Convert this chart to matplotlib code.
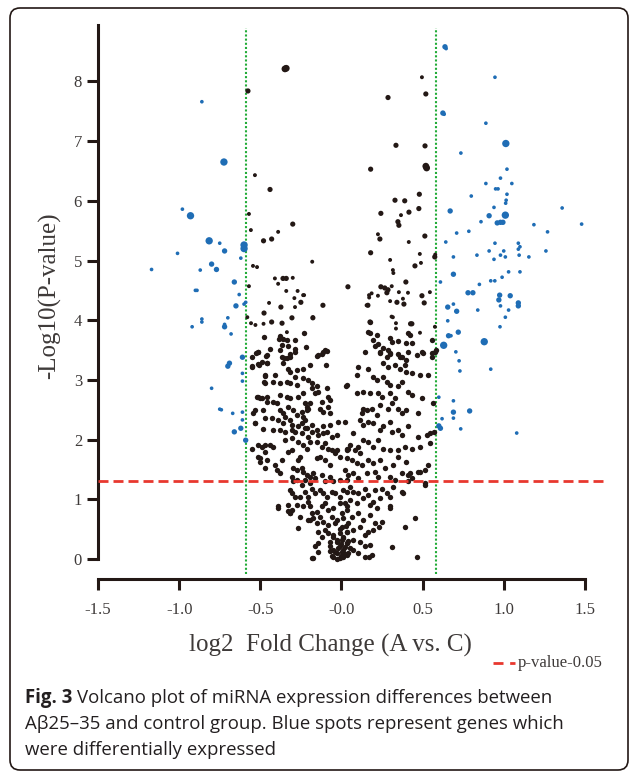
import matplotlib
matplotlib.use("Agg")
import matplotlib.pyplot as plt
from matplotlib.lines import Line2D
from matplotlib.patches import FancyBboxPatch
from matplotlib.transforms import IdentityTransform

# --- data: (log2 fold change, -log10 p, size class) ---
down_pts = [
    (-0.86, 7.66, 1), (-0.724, 6.65, 3), (-0.98, 5.86, 1), (-0.93, 5.75, 3), (-0.815, 5.33, 3),
    (-0.75, 5.29, 1), (-0.72, 5.16, 2), (-0.60, 5.26, 3), (-0.60, 5.20, 3), (-1.01, 5.12, 1),
    (-0.80, 4.94, 2), (-0.77, 4.85, 2), (-0.87, 4.84, 1), (-0.62, 5.04, 1), (-1.17, 4.85, 1),
    (-0.90, 4.50, 1), (-0.89, 4.50, 1), (-0.66, 4.64, 2), (-0.63, 4.43, 1), (-0.65, 4.24, 2),
    (-0.60, 4.27, 1), (-0.59, 4.30, 1), (-0.70, 4.04, 1), (-0.86, 3.97, 1), (-0.86, 4.02, 1),
    (-0.92, 3.89, 1), (-0.72, 3.89, 2), (-0.72, 3.93, 1), (-0.68, 3.77, 1), (-0.61, 3.38, 2),
    (-0.69, 3.28, 2), (-0.70, 3.23, 2), (-0.61, 3.11, 1), (-0.61, 2.98, 1), (-0.80, 2.86, 1),
    (-0.75, 2.51, 1), (-0.74, 2.50, 1), (-0.67, 2.44, 1), (-0.61, 2.46, 1), (-0.61, 2.33, 1),
    (-0.62, 2.19, 2), (-0.66, 2.13, 2), (-0.59, 1.99, 2),
]

up_pts = [
    (0.638, 8.58, 2), (0.645, 8.55, 1), (0.946, 8.07, 1), (0.625, 7.47, 2), (0.633, 7.45, 1),
    (0.89, 7.30, 1), (1.013, 6.96, 3), (0.736, 6.80, 1), (1.02, 6.53, 1), (0.98, 6.38, 1),
    (0.89, 6.29, 1), (1.05, 6.29, 1), (0.95, 6.20, 1), (0.965, 6.20, 1), (1.02, 6.11, 1),
    (0.80, 6.08, 1), (1.015, 6.01, 1), (1.012, 5.96, 1), (0.67, 5.83, 2), (0.94, 5.89, 1),
    (0.91, 5.75, 2), (1.01, 5.76, 3), (0.96, 5.63, 2), (0.98, 5.64, 2), (0.995, 5.64, 2),
    (0.86, 5.65, 1), (1.186, 5.60, 1), (1.36, 5.88, 1), (1.48, 5.61, 1), (1.27, 5.48, 1),
    (0.71, 5.46, 1), (0.785, 5.49, 1), (0.643, 5.31, 1), (0.946, 5.29, 1), (0.91, 5.16, 1),
    (1.00, 5.16, 1), (1.09, 5.19, 1), (1.10, 5.23, 1), (1.09, 5.29, 1), (1.26, 5.16, 1),
    (0.69, 5.06, 1), (0.835, 5.09, 1), (0.98, 5.09, 1), (1.01, 5.06, 1), (0.94, 5.02, 1),
    (1.095, 5.09, 1), (1.155, 5.06, 1), (1.03, 4.81, 1), (1.10, 4.81, 1), (0.69, 4.77, 2),
    (0.99, 4.72, 1), (0.92, 4.66, 1), (0.945, 4.66, 1), (0.61, 4.64, 1), (0.85, 4.60, 1),
    (0.78, 4.46, 2), (0.81, 4.46, 2), (0.975, 4.42, 2), (0.97, 4.34, 2), (1.04, 4.41, 2),
    (1.09, 4.29, 2), (1.09, 4.24, 2), (0.655, 4.22, 2), (0.69, 4.27, 1), (0.71, 4.15, 2),
    (0.84, 4.17, 1), (0.98, 4.24, 1), (1.03, 4.17, 1), (1.01, 4.05, 1), (0.655, 3.99, 1),
    (0.977, 3.89, 1), (0.66, 3.74, 2), (0.675, 3.74, 1), (0.72, 3.80, 2), (0.88, 3.64, 3),
    (0.63, 3.58, 3), (0.705, 3.47, 1), (0.725, 3.32, 1), (0.92, 3.18, 1), (0.73, 3.15, 1),
    (0.60, 2.71, 1), (0.69, 2.65, 1), (0.79, 2.48, 2), (0.69, 2.46, 2), (0.62, 2.35, 1),
    (0.69, 2.36, 1), (0.60, 2.23, 2), (0.61, 2.19, 2), (0.735, 2.18, 1), (1.08, 2.11, 1),
]

# sparse non-significant points (with size class)
ns_sparse = [
    (-0.348, 8.21, 3), (-0.340, 8.22, 3), (-0.576, 7.84, 2), (-0.533, 6.43, 1), (-0.44, 6.19, 2),
    (-0.30, 5.61, 2), (-0.57, 5.78, 1), (-0.558, 5.51, 1), (-0.48, 5.33, 2), (-0.43, 5.36, 2),
    (-0.39, 5.48, 1), (-0.18, 4.98, 1), (-0.545, 4.91, 1), (-0.52, 4.89, 1), (-0.41, 4.70, 1),
    (-0.36, 4.70, 2), (-0.34, 4.70, 2), (-0.30, 4.71, 1), (-0.39, 4.61, 1), (-0.57, 4.57, 1),
    (-0.34, 4.49, 1), (-0.27, 4.49, 1), (-0.236, 4.42, 1), (-0.29, 4.37, 1), (-0.446, 4.29, 1),
    (-0.373, 4.22, 2), (-0.286, 4.22, 1), (-0.25, 4.30, 2), (-0.477, 4.12, 2), (-0.58, 4.05, 1),
    (-0.305, 4.04, 2), (-0.176, 4.04, 2), (-0.43, 3.97, 2), (-0.366, 3.95, 2), (-0.557, 3.95, 1),
    (-0.53, 3.92, 1), (-0.48, 3.94, 1), (-0.336, 3.80, 1),
    (0.496, 8.07, 1), (0.52, 7.79, 2), (0.287, 7.73, 2), (0.336, 6.93, 2), (0.515, 6.92, 2),
    (0.52, 6.58, 3), (0.525, 6.55, 3), (0.18, 6.53, 2), (0.48, 6.11, 2), (0.33, 6.01, 2),
    (0.39, 6.00, 2), (0.243, 5.79, 2), (0.367, 5.76, 1), (0.416, 5.81, 2), (0.477, 5.87, 2),
    (0.348, 5.65, 2), (0.354, 5.59, 2), (0.225, 5.44, 1), (0.237, 5.36, 2), (0.514, 5.41, 2),
    (0.415, 5.31, 1), (0.18, 5.13, 2), (0.483, 5.11, 1), (0.575, 5.06, 2), (0.578, 5.10, 1),
    (0.30, 5.01, 1), (0.317, 4.84, 1), (0.32, 4.79, 1), (0.453, 4.91, 2), (0.49, 4.96, 1),
    (0.397, 4.64, 2), (0.04, 4.56, 2), (0.243, 4.56, 2), (0.267, 4.54, 2), (0.287, 4.51, 2),
    (0.31, 4.57, 1), (0.28, 4.46, 2), (-0.23, 4.42, 1), (0.17, 4.42, 1), (0.225, 4.41, 1),
    (0.354, 4.47, 1), (0.41, 4.46, 1), (0.496, 4.41, 2), (0.545, 4.47, 1), (-0.114, 4.25, 2),
    (0.163, 4.25, 2), (0.30, 4.32, 1), (0.342, 4.30, 2), (0.379, 4.36, 1), (0.385, 4.27, 2),
    (0.51, 4.29, 2), (-0.176, 4.05, 1), (0.176, 3.97, 2), (0.317, 4.05, 1), (0.336, 3.95, 1),
    (0.434, 3.94, 2), (0.171, 4.38, 1), (0.155, 4.25, 1), (0.186, 4.45, 1), (0.309, 4.06, 1),
    (0.336, 3.86, 1), (0.426, 3.94, 2), (0.484, 3.79, 1), (0.576, 3.89, 1),
]

# dense non-significant cloud
ns_left = [
    (-0.48, 3.72), (-0.38, 3.74), (-0.23, 3.79), (-0.385, 3.69), (-0.36, 3.69), (-0.336, 3.67),
    (-0.286, 3.67), (-0.366, 3.58), (-0.33, 3.57), (-0.22, 3.55), (-0.286, 3.52), (-0.44, 3.52),
    (-0.38, 3.50), (-0.10, 3.50), (-0.12, 3.43), (-0.15, 3.40), (-0.514, 3.47), (-0.354, 3.37),
    (-0.317, 3.38), (-0.527, 3.45), (-0.46, 3.42), (-0.49, 3.30), (-0.46, 3.28), (-0.55, 3.22),
    (-0.51, 3.25), (-0.47, 3.08), (-0.48, 2.96), (-0.52, 2.72), (-0.50, 2.70), (-0.46, 2.72),
    (-0.545, 2.44), (-0.533, 2.28), (-0.50, 1.69), (-0.47, 1.79), (-0.46, 1.66), (-0.39, 0.85),
    (-0.33, 0.80), (-0.317, 0.77), (-0.27, 0.52), (-0.194, 0.65), (-0.174, 0.02), (-0.143, 0.12),
    (-0.553, 3.39), (-0.513, 3.46), (-0.465, 3.40), (-0.368, 3.38), (-0.338, 3.36), (-0.317, 3.43),
    (-0.286, 3.46), (-0.143, 3.42), (-0.112, 3.46), (-0.087, 3.49),
    (-0.553, 3.23), (-0.513, 3.27), (-0.461, 3.29), (-0.362, 3.29), (-0.328, 3.19), (-0.317, 3.14),
    (-0.276, 3.17), (-0.235, 3.18), (-0.194, 3.25), (-0.096, 3.25),
    (-0.471, 3.07), (-0.41, 3.08), (-0.338, 2.97), (-0.317, 2.94), (-0.286, 3.05), (-0.235, 3.03),
    (-0.205, 3.00), (-0.184, 2.95), (-0.276, 2.91), (-0.153, 2.89), (-0.087, 2.86), (0.028, 2.90),
    (-0.471, 2.94), (-0.42, 2.97), (-0.379, 2.95),
    (-0.513, 2.72), (-0.492, 2.69), (-0.461, 2.63), (-0.42, 2.63), (-0.379, 2.75), (-0.338, 2.72),
    (-0.317, 2.69), (-0.266, 2.72), (-0.235, 2.78), (-0.225, 2.61), (-0.214, 2.55), (-0.194, 2.61),
    (-0.184, 2.86), (-0.163, 2.78), (-0.143, 2.80), (-0.122, 2.63), (-0.081, 2.72), (-0.071, 2.66),
    (-0.533, 2.50), (-0.482, 2.50), (-0.40, 2.61), (-0.379, 2.50), (-0.359, 2.44), (-0.348, 2.38),
    (-0.328, 2.55), (-0.297, 2.50), (-0.276, 2.41), (-0.245, 2.47), (-0.235, 2.38), (-0.225, 2.33),
    (-0.214, 2.50), (-0.205, 2.52), (-0.132, 2.52), (-0.112, 2.47), (-0.081, 2.55), (-0.071, 2.44),
    (-0.533, 2.27), (-0.471, 2.36), (-0.43, 2.36), (-0.389, 2.33), (-0.359, 2.27), (-0.317, 2.33),
    (-0.307, 2.24), (-0.266, 2.22), (-0.245, 2.27), (-0.214, 2.19), (-0.184, 2.24), (-0.153, 2.16),
    (-0.112, 2.22), (-0.071, 2.24), (-0.02, 2.30),
    (-0.482, 2.17), (-0.42, 2.16), (-0.379, 2.16), (-0.348, 2.13), (-0.307, 2.16), (-0.286, 2.13),
    (-0.245, 2.11), (-0.225, 2.19), (-0.184, 2.13), (-0.143, 2.08), (-0.112, 2.11), (-0.091, 2.13),
    (-0.06, 2.05), (-0.03, 2.08),
    (-0.513, 1.91), (-0.492, 1.88), (-0.471, 1.91), (-0.44, 1.91), (-0.553, 1.84), (-0.42, 1.88),
    (-0.348, 1.99), (-0.307, 2.02), (-0.266, 1.96), (-0.235, 1.91), (-0.214, 1.85), (-0.205, 2.04),
    (-0.194, 1.96), (-0.153, 1.96), (-0.122, 1.88), (-0.102, 1.94), (-0.081, 1.85), (-0.06, 1.83),
    (-0.03, 1.83), (0.042, 1.85),
    (-0.513, 1.71), (-0.502, 1.63), (-0.471, 1.52), (-0.41, 1.57), (-0.40, 1.49), (-0.379, 1.44),
    (-0.368, 1.66), (-0.328, 1.80), (-0.307, 1.83), (-0.266, 1.66), (-0.256, 1.71), (-0.297, 1.52),
    (-0.276, 1.49), (-0.245, 1.52), (-0.235, 1.46), (-0.214, 1.41), (-0.194, 1.38), (-0.174, 1.44),
    (-0.153, 1.69), (-0.132, 1.71), (-0.102, 1.66), (-0.071, 1.57), (-0.04, 1.77), (-0.009, 1.71),
    (0.032, 1.83),
    (-0.307, 1.38), (-0.297, 1.30), (-0.276, 1.32), (-0.245, 1.24), (-0.225, 1.32), (-0.194, 1.27),
    (-0.163, 1.35), (-0.122, 1.41), (-0.102, 1.30), (-0.071, 1.38), (-0.05, 1.30), (-0.009, 1.32),
    (0.032, 1.32),
    (-0.317, 1.16), (-0.307, 1.10), (-0.286, 1.04), (-0.256, 1.04), (-0.225, 1.13), (-0.205, 1.04),
    (-0.184, 1.18), (-0.163, 1.10), (-0.132, 1.16), (-0.112, 1.10), (-0.091, 1.04), (-0.06, 1.13),
    (-0.04, 1.10), (-0.009, 1.04), (0.032, 1.13),
    (-0.389, 0.88), (-0.328, 0.90), (-0.307, 0.82), (-0.317, 0.77), (-0.276, 0.90), (-0.235, 0.88),
    (-0.205, 0.96), (-0.194, 0.88), (-0.184, 0.77), (-0.153, 0.79), (-0.122, 0.88), (-0.102, 0.93),
    (-0.081, 0.82), (-0.05, 0.85), (-0.009, 0.93), (0.032, 0.88),
    (-0.256, 0.71), (-0.205, 0.65), (-0.174, 0.68), (-0.153, 0.60), (-0.132, 0.71), (-0.112, 0.62),
    (-0.081, 0.57), (-0.06, 0.71), (-0.03, 0.65), (0.011, 0.68), (0.042, 0.60),
    (-0.143, 0.46), (-0.122, 0.37), (-0.102, 0.49), (-0.081, 0.43), (-0.071, 0.29), (-0.05, 0.37),
    (-0.03, 0.32), (-0.009, 0.43), (0.011, 0.37), (0.032, 0.46),
    (-0.163, 0.21), (-0.143, 0.26), (-0.071, 0.21), (-0.05, 0.15), (-0.03, 0.10), (-0.009, 0.21),
    (0.011, 0.15), (0.032, 0.26), (0.042, 0.10),
    (-0.184, 0.01), (-0.05, 0.04), (-0.03, 0.00), (-0.009, 0.01), (0.011, 0.04),
    (-0.06, 0.05), (-0.04, 0.12), (-0.02, 0.18), (0.0, 0.25), (0.02, 0.20), (0.04, 0.30),
    (-0.05, 0.40), (0.0, 0.05), (0.02, 0.08), (-0.03, 0.28), (0.05, 0.18), (-0.07, 0.14),
    (0.01, 0.35), (-0.01, 0.50), (0.03, 0.55), (-0.04, 0.60),
]

ns_right = [
    (0.176, 3.97), (0.165, 3.81), (0.176, 3.79), (0.217, 3.75), (0.196, 3.67), (0.227, 3.60),
    (0.299, 3.70), (0.309, 3.64), (0.35, 3.66), (0.412, 3.79), (0.422, 3.75), (0.432, 3.61),
    (0.40, 3.62), (0.556, 3.67), (0.576, 3.47), (0.206, 3.56), (0.237, 3.47), (0.258, 3.53),
    (0.288, 3.50), (0.299, 3.43), (0.35, 3.43), (0.371, 3.39), (0.412, 3.47), (0.494, 3.47),
    (0.556, 3.45),
    (0.145, 3.47), (0.237, 3.45), (0.278, 3.39), (0.299, 3.45), (0.36, 3.39), (0.40, 3.33),
    (0.463, 3.42), (0.504, 3.45), (0.556, 3.39), (0.58, 3.50),
    (0.258, 3.28), (0.288, 3.22), (0.33, 3.25), (0.36, 3.19), (0.391, 3.25), (0.40, 3.14),
    (0.432, 3.11), (0.484, 3.08), (0.535, 3.08), (0.104, 3.22), (0.165, 3.19), (0.032, 2.91),
    (0.094, 3.08), (0.196, 3.05), (0.217, 3.00), (0.258, 3.05), (0.278, 2.97), (0.299, 2.91),
    (0.35, 2.89), (0.371, 2.97),
    (0.094, 2.78), (0.134, 2.80), (0.176, 2.78), (0.227, 2.78), (0.248, 2.72), (0.299, 2.78),
    (0.309, 2.61), (0.33, 2.69), (0.412, 2.80), (0.432, 2.75), (0.494, 2.69), (0.566, 2.62),
    (0.134, 2.52), (0.124, 2.44), (0.155, 2.50), (0.186, 2.52), (0.217, 2.41), (0.237, 2.58),
    (0.288, 2.52), (0.35, 2.52), (0.371, 2.44), (0.40, 2.50), (0.473, 2.44),
    (0.022, 2.30), (0.073, 2.11), (0.114, 2.33), (0.134, 2.24), (0.165, 2.30), (0.196, 2.27),
    (0.237, 2.16), (0.258, 2.22), (0.299, 2.30), (0.309, 2.13), (0.35, 2.16), (0.371, 2.08),
    (0.473, 2.05), (0.525, 2.08), (0.545, 1.94), (0.412, 2.22), (0.572, 2.13), (0.545, 2.11),
    (0.032, 1.85), (0.052, 1.91), (0.083, 1.83), (0.104, 1.88), (0.114, 1.77), (0.134, 1.99),
    (0.165, 1.96), (0.196, 1.88), (0.227, 1.99), (0.258, 1.85), (0.299, 1.83), (0.35, 1.83),
    (0.391, 1.88), (0.432, 1.85), (0.484, 1.88), (0.535, 1.57), (0.514, 1.49),
    (0.032, 1.69), (0.063, 1.66), (0.094, 1.60), (0.124, 1.57), (0.165, 1.66), (0.196, 1.60),
    (0.237, 1.66), (0.268, 1.52), (0.319, 1.57), (0.35, 1.71), (0.40, 1.63), (0.412, 1.41),
    (0.432, 1.35), (0.473, 1.46), (0.484, 1.45),
    (0.022, 1.49), (0.042, 1.41), (0.073, 1.44), (0.104, 1.35), (0.155, 1.44), (0.206, 1.46),
    (0.227, 1.38), (0.299, 1.38), (0.33, 1.32), (0.371, 1.44), (0.422, 1.44),
    (0.011, 1.16), (0.052, 1.21), (0.073, 1.13), (0.104, 1.10), (0.145, 1.18), (0.165, 1.07),
    (0.206, 1.16), (0.248, 1.18), (0.278, 1.10), (0.299, 1.04), (0.319, 1.21), (0.371, 1.13),
    (0.412, 1.30), (0.514, 1.27), (0.514, 1.24), (0.38, 1.10),
    (0.022, 0.93), (0.052, 0.99), (0.094, 0.93), (0.134, 1.02), (0.176, 0.90), (0.196, 0.96),
    (0.237, 1.02), (0.299, 0.88), (0.217, 0.85), (0.299, 0.85),
    (0.001, 0.77), (0.032, 0.82), (0.063, 0.71), (0.104, 0.77), (0.134, 0.65), (0.176, 0.74),
    (0.206, 0.60), (0.248, 0.62), (0.391, 0.54), (0.453, 0.68), (0.23, 0.54),
    (0.001, 0.54), (0.032, 0.46), (0.073, 0.49), (0.114, 0.54), (0.145, 0.40), (0.165, 0.46),
    (0.196, 0.49),
    (0.001, 0.32), (0.032, 0.26), (0.073, 0.32), (0.114, 0.29), (0.145, 0.21), (0.176, 0.23),
    (0.309, 0.20), (0.463, 0.04), (0.171, 0.04),
    (0.001, 0.12), (0.032, 0.07), (0.073, 0.15), (0.104, 0.10), (0.145, 0.04), (0.186, 0.07),
]

x_ticks = [-1.5, -1.0, -0.5, 0.0, 0.5, 1.0, 1.5]
x_tick_labels = ["-1.5", "-1.0", "-0.5", "-0.0", "0.5", "1.0", "1.5"]
y_ticks = [0, 1, 2, 3, 4, 5, 6, 7, 8]
fc_cut = 0.585   # log2(1.5)
p_cut = 1.301    # -log10(0.05)

BLACK = "#231815"
BLUE = "#1f6db5"
GREEN = "#22ac38"
RED = "#e8382f"
TXT = "#3e3a39"
SERIF = "Liberation Serif"

blue_size = {1: 7, 2: 15, 3: 28}
black_size = {1: 8, 2: 14, 3: 24}

fig = plt.figure(figsize=(6.29, 7.72), dpi=100)
ax = fig.add_axes([0.1558, 0.2496, 0.805, 0.7184])

ax.vlines([-fc_cut, fc_cut], -0.25, 8.9, colors=GREEN, linewidth=1.5,
          linestyles=(0, (1, 1)), zorder=1)
ax.hlines(p_cut, -1.5, 1.61, colors=RED, linewidth=2.0,
          linestyles=(0, (3.6, 1.8)), zorder=3)

cloud = ns_left + ns_right
ax.scatter([p[0] for p in cloud], [p[1] for p in cloud], s=15, c=BLACK,
           linewidths=0, zorder=2)
ax.scatter([p[0] for p in ns_sparse], [p[1] for p in ns_sparse],
           s=[black_size[p[2]] for p in ns_sparse], c=BLACK, linewidths=0, zorder=2)
sig = down_pts + up_pts
ax.scatter([p[0] for p in sig], [p[1] for p in sig],
           s=[blue_size[p[2]] for p in sig], c=BLUE, linewidths=0, zorder=2)

ax.set_xlim(-1.5, 1.62)
ax.set_ylim(-0.34, 8.95)
for side in ("top", "right"):
    ax.spines[side].set_visible(False)
for side in ("left", "bottom"):
    ax.spines[side].set_linewidth(2.2)
    ax.spines[side].set_color(BLACK)
ax.spines["left"].set_bounds(0, 8.95)
ax.spines["bottom"].set_bounds(-1.5, 1.5)

ax.set_xticks(x_ticks)
ax.set_xticklabels(x_tick_labels)
ax.set_yticks(y_ticks)
ax.tick_params(axis="both", direction="out", length=8, width=2.2, color=BLACK,
               labelcolor=TXT, labelsize=12)
ax.tick_params(axis="x", pad=8)
ax.tick_params(axis="y", pad=3.5)
for lab in ax.get_xticklabels() + ax.get_yticklabels():
    lab.set_family(SERIF)

fig.text(0.0795, 0.6166, "-Log10(P-value)", rotation=90, ha="center", va="center",
         fontsize=18, family=SERIF, color=TXT)
fig.text(0.5254, 0.1645, "log2  Fold Change (A vs. C)", ha="center", va="center",
         fontsize=18, family=SERIF, color=TXT)

# little legend for the threshold line
fig.add_artist(Line2D([0.784, 0.819], [0.1412, 0.1412], transform=fig.transFigure,
                      color=RED, linewidth=2.0, linestyle=(0, (3.6, 2.4))))
fig.text(0.8235, 0.1412, "p-value-0.05", ha="left", va="center", fontsize=12,
         family=SERIF, color=TXT)

# caption
cap_font = "Open Sans"
cap_size = 13.4
CAP = "#231f20"
bold = fig.text(25 / 629, 0.0898, "Fig. 3", fontsize=cap_size, weight="bold",
                family=cap_font, color=CAP, va="baseline")
fig.canvas.draw()
bx = bold.get_window_extent().x1
fig.text((bx + 5) / 629, 0.0898,
         "Volcano plot of miRNA expression differences between",
         fontsize=cap_size, family=cap_font, color=CAP, va="baseline")
fig.text(25 / 629, 0.0557, "Aβ25–35 and control group. Blue spots represent genes which",
         fontsize=cap_size, family=cap_font, color=CAP, va="baseline")
fig.text(25 / 629, 0.0220, "were differentially expressed",
         fontsize=cap_size, family=cap_font, color=CAP, va="baseline")

# rounded frame around the panel
fig.add_artist(FancyBboxPatch((10, 2), 618, 762, boxstyle="round,pad=0,rounding_size=10",
                              transform=IdentityTransform(), fill=False,
                              linewidth=1.2, edgecolor=BLACK))

fig.savefig("out.png", dpi=100)
